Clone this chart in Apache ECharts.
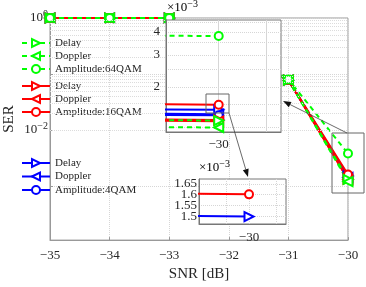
<!DOCTYPE html>
<html><head><meta charset="utf-8">
<script src="https://cdn.jsdelivr.net/npm/echarts@6/dist/echarts.min.js"></script>
<style>html,body{margin:0;padding:0;background:#fff}#c{width:366px;height:287px}</style>
</head><body><div id="c"></div>
<script>
// ---- data ----
const snr = [-35, -34, -33, -31, -30];
const delay64   = [1, 1, 1, 0.078, 1.31e-3];
const doppler64 = [1, 1, 1, 0.078, 1.2e-3];
const amp64     = [1, 1, 1, 0.080, 3.8e-3];
const delay16   = [1, 1, 1, 0.078, 1.32e-3];
const doppler16 = [1, 1, 1, 0.078, 1.30e-3];
const amp16     = [1, 1, 1, 0.078, 1.6e-3];
const delay4    = [1, 1, 1, 0.078, 1.5e-3];
const doppler4  = [1, 1, 1, 0.078, 1.42e-3];
const amp4      = [1, 1, 1, 0.078, 1.40e-3];
const xTickValues = [-35, -34, -33, -32, -31, -30];
const mainYLabelPowers = [0, -2];
const inset1YLabels = [2e-3, 3e-3, 4e-3];
const inset2YLabelsA = [1.5e-3, 1.6e-3];
const inset2YLabelsB = [1.55e-3, 1.65e-3];
const legendLabels = ['Delay', 'Doppler', 'Amplitude:64QAM', 'Delay', 'Doppler', 'Amplitude:16QAM', 'Delay', 'Doppler', 'Amplitude:4QAM'];
const seriesNames = ['d64', 'p64', 'a64', 'd16', 'p16', 'a16', 'd4', 'p4', 'a4'];

const FONT = 'Liberation Serif';
const GREEN = '#00ff00', RED = '#ff0000', BLUE = '#0000ff';
const valuesList = [delay64, doppler64, amp64, delay16, doppler16, amp16, delay4, doppler4, amp4];
const colors = [GREEN, GREEN, GREEN, RED, RED, RED, BLUE, BLUE, BLUE];
const symbols = ['emptyTriangle', 'emptyTriangle', 'emptyCircle'];
const rotates = [-90, 90, 0];
const labelMap = {};
seriesNames.forEach((n, i) => labelMap[n] = legendLabels[i]);

const sup = { b: { fontSize: 13, fontFamily: FONT, color: '#262626' }, s: { fontSize: 10, fontFamily: FONT, color: '#262626', padding: [0, 0, 7, 0] } };
const minus = v => String(v).replace('-', '\u2212');

// minor log grid for main plot
const minorGrid = [];
for (let k = -4; k <= -1; k++) for (let m = 2; m <= 9; m++) minorGrid.push({ yAxis: m * Math.pow(10, k) });

const series = [];
const drawOrder = [6, 7, 8, 3, 4, 5, 0, 1, 2];
[0, 1, 2].forEach(g => {
  drawOrder.forEach((i, k) => {
    const s = {
      type: 'line', name: seriesNames[i], xAxisIndex: g, yAxisIndex: g,
      data: snr.map((x, j) => [x, valuesList[i][j]]),
      symbol: symbols[i % 3], symbolRotate: rotates[i % 3], symbolSize: i % 3 === 2 ? 8 : 9,
      lineStyle: { color: colors[i], width: 2, type: i < 3 ? [5, 4] : 'solid' },
      itemStyle: { color: colors[i], borderColor: colors[i], borderWidth: 1.6 },
      z: g === 0 ? 3 : 13, animation: false, clip: true
    };
    if (g === 0 && k === 0) {
      s.markLine = { silent: true, symbol: 'none', animation: false, label: { show: false },
        lineStyle: { color: '#dcdcdc', type: 'dotted', width: 1 }, data: minorGrid };
    }
    series.push(s);
  });
});

const legendCommon = {
  orient: 'vertical', padding: 0, itemWidth: 28, itemHeight: 10, itemGap: 0, left: 21,
  textStyle: { fontFamily: FONT, fontSize: 11, color: '#262626', lineHeight: 13 },
  formatter: n => labelMap[n], selectedMode: false
};

const expRich = { x: { fontFamily: FONT, fontSize: 13, color: '#262626' }, s: sup.s };
const inset2Label = { interval: 0, hideOverlap: false, fontFamily: FONT, fontSize: 13, color: '#262626', margin: 2, formatter: v => String(+(v * 1000).toFixed(2)) };

const option = {
  backgroundColor: '#fff',
  animation: false,
  grid: [
    { left: 50, right: 18, top: 18, bottom: 43, show: true, borderColor: '#999', borderWidth: 1, backgroundColor: 'transparent' },
    { left: 166, top: 20, width: 115, height: 112, show: true, borderColor: '#777', borderWidth: 1, backgroundColor: '#fff', z: 10 },
    { left: 199, top: 179, width: 87, height: 45, show: true, borderColor: '#777', borderWidth: 1, backgroundColor: '#fff', z: 10 }
  ],
  legend: [
    Object.assign({}, legendCommon, { top: 36.5, data: seriesNames.slice(0, 3) }),
    Object.assign({}, legendCommon, { top: 79.5, data: seriesNames.slice(3, 6) }),
    Object.assign({}, legendCommon, { top: 156.5, itemGap: 0.5, data: seriesNames.slice(6, 9) })
  ],
  xAxis: [
    { type: 'value', gridIndex: 0, min: -35, max: -30, interval: 1,
      axisLine: { lineStyle: { color: '#999' } }, axisTick: { inside: true, length: 3, lineStyle: { color: '#999' } },
      axisLabel: { fontFamily: FONT, fontSize: 13, color: '#262626', margin: 9, formatter: minus },
      splitLine: { show: true, lineStyle: { color: '#d6d6d6', type: 'dotted' } },
      name: 'SNR [dB]', nameLocation: 'middle', nameGap: 22, nameTextStyle: { fontFamily: FONT, fontSize: 15, color: '#262626', verticalAlign: 'top' } },
    { type: 'value', gridIndex: 1, min: -30.0011, max: -29.9987, z: 11,
      axisLine: { lineStyle: { color: '#777' } }, axisTick: { show: false, customValues: [-30, -29.999] },
      axisLabel: { customValues: [-30], fontFamily: FONT, fontSize: 13, color: '#262626', margin: 6, formatter: () => '\u221230' },
      splitLine: { show: true, lineStyle: { color: '#d6d6d6', type: 'solid' } } },
    { type: 'value', gridIndex: 2, min: -30.0005, max: -29.99963, z: 11,
      axisLine: { lineStyle: { color: '#777' } }, axisTick: { show: false, customValues: [-30.00023, -30, -29.99973] },
      axisLabel: { customValues: [-30], fontFamily: FONT, fontSize: 13, color: '#262626', margin: 7, formatter: () => '\u221230' },
      splitLine: { show: true, lineStyle: { color: '#d6d6d6', type: 'dotted' } } }
  ],
  yAxis: [
    { type: 'log', logBase: 10, gridIndex: 0, min: 1.08e-4, max: 1,
      axisLine: { lineStyle: { color: '#999' } }, axisTick: { inside: true, length: 3, lineStyle: { color: '#999' } },
      axisLabel: { margin: 2, rich: sup, formatter: v => {
        const p = Math.round(Math.log10(v));
        if (Math.abs(Math.log10(v) - p) > 1e-6 || mainYLabelPowers.indexOf(p) < 0) return '';
        return '{b|10}{s|' + minus(p) + '}';
      } },
      splitLine: { show: true, lineStyle: { color: '#d6d6d6', type: 'dotted' } } },
    { type: 'log', logBase: 10, gridIndex: 1, min: 1.134e-3, max: 4.65e-3, z: 11,
      axisLine: { lineStyle: { color: '#777' } }, axisTick: { show: false, customValues: [1.2e-3, 1.4e-3, 1.6e-3, 2e-3, 2.5e-3, 3e-3, 3.5e-3, 4e-3, 4.5e-3] },
      axisLabel: { customValues: inset1YLabels, fontFamily: FONT, fontSize: 13, color: '#262626', margin: 6, formatter: v => String(Math.round(v * 1000)) },
      splitLine: { show: true, lineStyle: { color: '#d6d6d6', type: 'dotted' } } },
    { type: 'log', logBase: 10, gridIndex: 2, min: 1.468e-3, max: 1.673e-3, z: 11,
      axisLine: { lineStyle: { color: '#777' } }, axisTick: { show: false, customValues: [1.5e-3, 1.55e-3, 1.6e-3, 1.65e-3] },
      axisLabel: Object.assign({ customValues: inset2YLabelsA }, inset2Label),
      splitLine: { show: true, lineStyle: { color: '#d6d6d6', type: 'dotted' } } },
    { type: 'log', logBase: 10, gridIndex: 2, position: 'left', min: 1.468e-3, max: 1.673e-3, z: 11,
      axisLine: { show: false }, axisTick: { show: false }, splitLine: { show: false },
      axisLabel: Object.assign({ customValues: inset2YLabelsB }, inset2Label) }
  ],
  series: series
};

function arrow(x1, y1, x2, y2) {
  const a = Math.atan2(y2 - y1, x2 - x1), L = 8, W = 3;
  const bx = x2 - L * Math.cos(a), by = y2 - L * Math.sin(a);
  return [
    { type: 'line', z: 100, shape: { x1, y1, x2: bx, y2: by }, style: { stroke: '#444', lineWidth: 0.8 } },
    { type: 'polygon', z: 100, shape: { points: [[x2, y2], [bx + W * Math.sin(a), by - W * Math.cos(a)], [bx - W * Math.sin(a), by + W * Math.cos(a)]] }, style: { fill: '#111' } }
  ];
}
option.graphic = [
  { type: 'rect', z: 100, shape: { x: 332, y: 133, width: 32, height: 60 }, style: { fill: null, stroke: '#666', lineWidth: 1 } },
  { type: 'rect', z: 100, shape: { x: 206, y: 94, width: 23, height: 19 }, style: { fill: null, stroke: '#666', lineWidth: 1 } },
  ...arrow(347, 133, 283, 101),
  ...arrow(229, 113, 248, 177),
  { type: 'text', z: 100, x: 9, y: 119, rotation: Math.PI / 2, style: { text: 'SER', fontFamily: FONT, fontSize: 15, fill: '#262626', align: 'center', verticalAlign: 'middle' } },
  { type: 'text', z: 100, x: 167, y: 16, style: { text: '{x|\u00d710}{s|\u22123}', rich: expRich, align: 'left', verticalAlign: 'bottom' } },
  { type: 'text', z: 100, x: 199, y: 176, style: { text: '{x|\u00d710}{s|\u22123}', rich: expRich, align: 'left', verticalAlign: 'bottom' } }
];

const chart = echarts.init(document.getElementById('c'), null, { renderer: 'canvas' });
chart.setOption(option);
</script></body></html>
